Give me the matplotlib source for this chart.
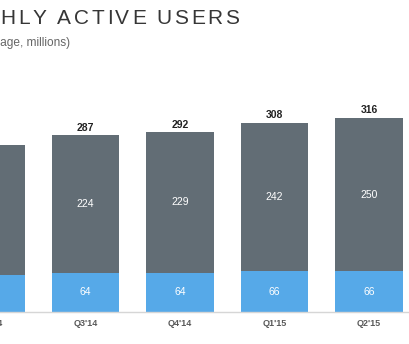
import matplotlib
matplotlib.use("Agg")
import matplotlib.pyplot as plt
from matplotlib import font_manager
from matplotlib.ft2font import FT2Font
import numpy as np

# Monthly active users by quarter (millions)
quarters = ["Q2'14", "Q3'14", "Q4'14", "Q1'15", "Q2'15"]
us_users = [60, 64, 64, 66, 66]
intl_users = [211, 224, 229, 242, 250]
totals = [271, 287, 292, 308, 316]

heading = "MONTHLY ACTIVE USERS"
subheading = "(average, millions)"

W, H = 410, 344
DPI = 100
fig = plt.figure(figsize=(W / DPI, H / DPI), dpi=DPI)
fig.patch.set_facecolor("white")

# Axes placed in pixel terms; the left edge runs off the canvas
px_left, px_right = -56.25, 416.25
px_base, px_top = 312, 312 - 340 * 0.615
ax = fig.add_axes([px_left / W, (H - px_base) / H,
                   (px_right - px_left) / W, (px_base - px_top) / H])
ax.set_xlim(-0.5, len(quarters) - 0.5)
ax.set_ylim(0, 340)

blue = "#56a9e8"
grey = "#626d75"
x = np.arange(len(quarters))
width = 0.71

ax.bar(x, us_users, width, color=blue, linewidth=0)
ax.bar(x, intl_users, width, bottom=us_users, color=grey, linewidth=0)

font = "Liberation Sans"
for xi, u, i, t in zip(x, us_users, intl_users, totals):
    ax.text(xi, u / 2, str(u), ha="center", va="center", color="white",
            fontsize=7.5, family=font)
    ax.text(xi, u + i / 2, str(i), ha="center", va="center", color="white",
            fontsize=7.5, family=font)
    ax.text(xi, t + 4, str(t), ha="center", va="bottom", color="#222222",
            fontsize=7.5, fontweight="bold", family=font)

for side in ["top", "right", "left"]:
    ax.spines[side].set_visible(False)
ax.spines["bottom"].set_color("#d6d6d6")
ax.spines["bottom"].set_linewidth(1.0)
ax.set_yticks([])
ax.set_xticks(x)
ax.set_xticklabels(quarters, fontsize=6.5, color="#5a5a5a",
                   fontweight="bold", family=font)
ax.tick_params(axis="x", length=0, pad=5)


def tracked_text(s, right_px, baseline_px, size_pt, tracking_px, **kw):
    """Draw a letter-spaced string that ends at right_px (pixel coords)."""
    path = font_manager.findfont(font_manager.FontProperties(family=font))
    ft = FT2Font(path)
    ft.set_size(size_pt, DPI)
    adv = []
    for ch in s:
        g = ft.load_char(ord(ch))
        adv.append(g.linearHoriAdvance / 65536)
    total = sum(adv) + tracking_px * (len(s) - 1)
    xpos = right_px - total
    for ch, a in zip(s, adv):
        if ch != " ":
            fig.text(xpos / W, 1 - baseline_px / H, ch, ha="left",
                     va="baseline", fontsize=size_pt, family=font, **kw)
        xpos += a + tracking_px


# Heading and subheading
tracked_text(heading, 239, 24.5, 15, 2.6, color="#363636")
fig.text(70 / W, 1 - 46 / H, subheading, ha="right",
         va="baseline", fontsize=8.6, color="#666666", family=font)

fig.savefig("out.png", dpi=DPI, facecolor="white")
